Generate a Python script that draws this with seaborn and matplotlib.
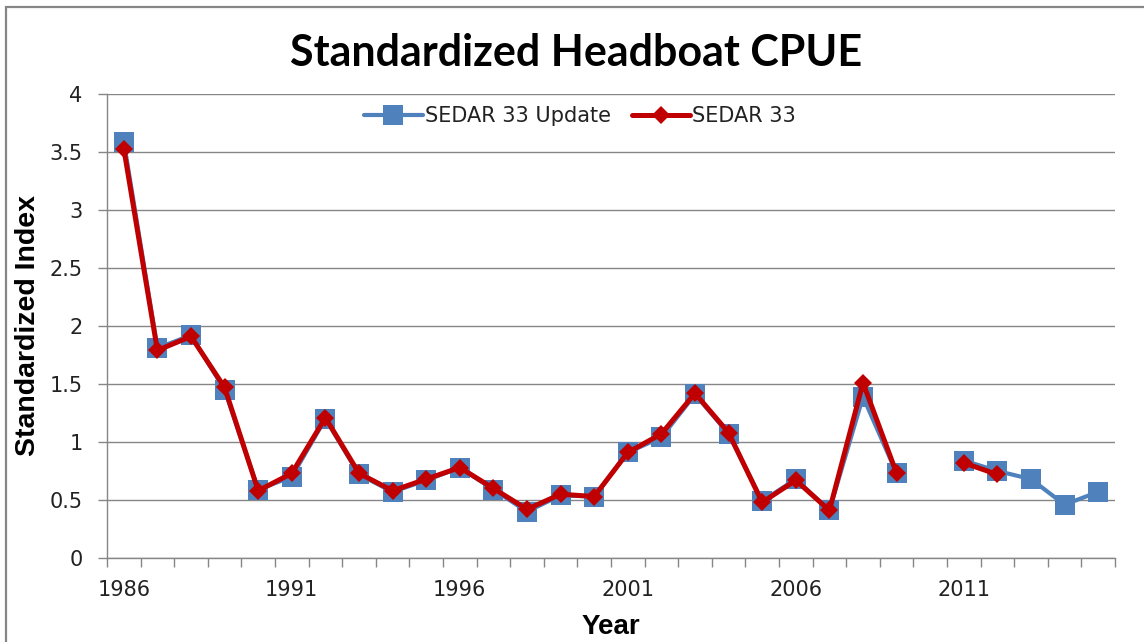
import numpy as np
import pandas as pd
import matplotlib
matplotlib.use("Agg")
import matplotlib.pyplot as plt
import seaborn as sns
from matplotlib.ticker import FixedLocator, FuncFormatter
from matplotlib.patches import Rectangle

# ---- data ----
years = list(range(1986, 2016))
sedar33_update = [3.59, 1.81, 1.92, 1.45, 0.59, 0.70, 1.20, 0.72, 0.57, 0.67,
                  0.78, 0.59, 0.40, 0.54, 0.53, 0.91, 1.04, 1.41, 1.07, 0.49,
                  0.68, 0.41, 1.39, 0.73, np.nan, 0.84, 0.75, 0.68, 0.46, 0.57]
sedar33 = [3.53, 1.79, 1.91, 1.47, 0.58, 0.73, 1.21, 0.73, 0.58, 0.68,
           0.78, 0.60, 0.42, 0.55, 0.53, 0.91, 1.07, 1.42, 1.08, 0.48,
           0.67, 0.41, 1.51, 0.73, np.nan, 0.82, 0.72, np.nan, np.nan, np.nan]
series_names = ["SEDAR 33 Update", "SEDAR 33"]
xtick_labels = [1986, 1991, 1996, 2001, 2006, 2011]
yticks = [0, 0.5, 1, 1.5, 2, 2.5, 3, 3.5, 4]

BLUE = "#4F81BD"
RED = "#C00000"
GRAY = "#868686"

sns.set_style("white")
plt.rcParams["font.family"] = ["DejaVu Sans"]

W, H = 1144, 642
fig = plt.figure(figsize=(W / 100, H / 100), dpi=100)
L, R, T, B = 107, 1115, 94, 558
ax = fig.add_axes([L / W, 1 - B / H, (R - L) / W, (B - T) / H])


def segments(xs, ys):
    df = pd.DataFrame({"Year": xs, "Value": ys})
    seg = df["Value"].isna().cumsum()
    out = []
    for _, g in df.groupby(seg):
        g = g.dropna()
        if len(g):
            out.append(g)
    return out


styles = [
    dict(color=BLUE, marker="s", markersize=15, linewidth=3.0, zorder=2),
    dict(color=RED, marker="D", markersize=9.5, linewidth=3.6, zorder=3),
]
for name, vals, st in zip(series_names, [sedar33_update, sedar33], styles):
    for i, g in enumerate(segments(years, vals)):
        sns.lineplot(data=g, x="Year", y="Value", ax=ax,
                     color=st["color"], marker=st["marker"],
                     markersize=st["markersize"], markeredgewidth=0,
                     linewidth=st["linewidth"], zorder=st["zorder"],
                     label=name if i == 0 else None, legend=False)

ax.set_xlim(years[0] - 0.5, years[-1] + 0.5)
ax.set_ylim(0, 4)

# y axis
ax.yaxis.set_major_locator(FixedLocator(yticks))
ax.yaxis.set_major_formatter(FuncFormatter(lambda v, p: f"{v:g}"))
ax.grid(axis="y", color=GRAY, linewidth=1.0)
ax.grid(axis="x", visible=False)
ax.set_axisbelow(True)

# x axis: labels every 5 years, tick marks between categories
ax.xaxis.set_major_locator(FixedLocator(xtick_labels))
ax.xaxis.set_major_formatter(FuncFormatter(lambda v, p: f"{int(round(v))}"))
ax.xaxis.set_minor_locator(FixedLocator(np.arange(years[0] - 0.5, years[-1] + 1, 1.0)))
ax.tick_params(axis="x", which="major", length=0, pad=16, labelsize=15, labelcolor="#222222")
ax.tick_params(axis="x", which="minor", length=6.5, width=1, color=GRAY, direction="out", bottom=True)
ax.tick_params(axis="y", which="major", length=6.5, width=1, color=GRAY, direction="out",
               left=True, pad=11, labelsize=15, labelcolor="#222222")

for s in ["top", "right"]:
    ax.spines[s].set_visible(False)
for s in ["left", "bottom"]:
    ax.spines[s].set_color(GRAY)
    ax.spines[s].set_linewidth(1.0)

ax.set_xlabel("Year", fontsize=20, fontweight="bold", family="Liberation Sans", va="center",
              color="black")
ax.xaxis.set_label_coords((611 - L) / (R - L), (B - 627) / (B - T))
ax.set_ylabel("Standardized Index", fontsize=20.5, fontweight="bold", family="Liberation Sans",
              va="center", color="black")
ax.yaxis.set_label_coords((28 - L) / (R - L), 0.5)

fig.text(576 / W, 1 - 53 / H, "Standardized Headboat CPUE", ha="center", va="center",
         fontsize=31, fontweight="bold", family="Lato", color="black")

leg = ax.legend(loc="center", bbox_to_anchor=((580 - L) / (R - L), (B - 116) / (B - T)),
                ncol=2, frameon=False, fontsize=15, handlelength=2.8, handletextpad=0.1,
                columnspacing=1.0, borderpad=0)
for t in leg.get_texts():
    t.set_color("#222222")

# chart-area border
fig.patches.append(Rectangle((6 / W, -0.05), 1.2, 1 - 7 / H + 0.05, transform=fig.transFigure,
                             fill=False, edgecolor=GRAY, linewidth=1.6, zorder=10))

fig.savefig("out.png", dpi=100)
